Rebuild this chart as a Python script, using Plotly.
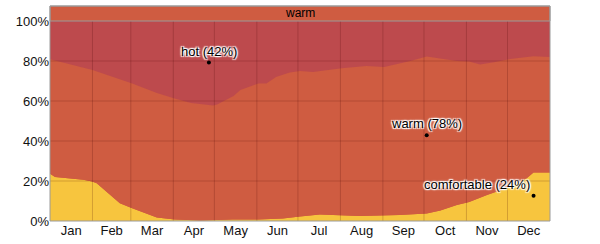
import plotly.graph_objects as go

# ---- data ----
months = ["Jan", "Feb", "Mar", "Apr", "May", "Jun", "Jul", "Aug", "Sep", "Oct", "Nov", "Dec"]
month_starts = [0, 31, 59, 90, 120, 151, 181, 212, 243, 273, 304, 334, 365]
pct_ticks = [0, 20, 40, 60, 80, 100]
pct_labels = ["0%", "20%", "40%", "60%", "80%", "100%"]

# upper edge of "warm" (= lower edge of "hot"), cumulative %
hot_days = [0, 14.6, 31, 60, 78, 91, 103, 119, 122, 134, 139, 152, 158, 165, 175, 182.5,
            192, 213, 231, 244, 263, 275, 285, 297, 306, 314, 324, 335, 353, 365]
hot_lower = [80.9, 78.3, 75.5, 68.8, 64.0, 61.3, 59.0, 57.8, 58.3, 62.5, 65.5, 68.7, 68.7,
             72.0, 74.2, 75.0, 74.5, 76.4, 77.5, 77.0, 80.0, 82.3, 81.4, 80.0, 79.7, 78.2,
             79.4, 80.9, 82.4, 82.0]

# upper edge of "comfortable", %
comf_days = [0, 3.7, 24.3, 30.7, 34.1, 41.4, 51, 60, 68, 78, 91, 110, 122, 133, 152, 170,
             182.5, 197, 226, 255, 275, 285, 297, 306, 319, 333, 348, 353, 365]
comfortable = [23.6, 22.0, 20.6, 19.8, 18.9, 14.7, 8.9, 6.4, 4.4, 1.8, 0.8, 0.2, 0.5, 0.8,
               0.8, 1.3, 2.2, 3.3, 2.5, 3.0, 3.8, 5.2, 8.0, 9.5, 13.0, 16.4, 21.4, 24.3, 24.3]

top_days = [0, 365]
top_vals = [100, 100]

labels = ["hot (42%)", "warm (78%)", "comfortable (24%)"]
label_days = [116, 275, 353]
label_vals = [79.2, 42.9, 12.6]

# ---- styles ----
C_HOT = "#BD4A4D"
C_WARM = "#CF5C41"
C_COMF = "#F7C53E"
C_FRAME = "#9A9A9A"
C_GRID = "rgba(70,0,0,0.2)"
FONT = "Liberation Sans, Arial, sans-serif"

fig = go.Figure()
fig.add_trace(go.Scatter(x=comf_days, y=comfortable, mode="lines", line=dict(width=0),
                         fill="tozeroy", fillcolor=C_COMF, hoverinfo="skip"))
fig.add_trace(go.Scatter(x=hot_days, y=hot_lower, mode="lines", line=dict(width=0),
                         fill="tonexty", fillcolor=C_WARM, hoverinfo="skip"))
fig.add_trace(go.Scatter(x=top_days, y=top_vals, mode="lines", line=dict(width=0),
                         fill="tonexty", fillcolor=C_HOT, hoverinfo="skip"))
fig.add_trace(go.Scatter(x=label_days, y=label_vals, mode="markers",
                         marker=dict(color="black", size=4), hoverinfo="skip"))

shadow = ("1px 1px 1px #fff, -1px -1px 1px #fff, 1px -1px 1px #fff, -1px 1px 1px #fff, "
          "0 0 3px #fff")
for i, (t, d, v) in enumerate(zip(labels, label_days, label_vals)):
    last = i == len(labels) - 1
    fig.add_annotation(x=d, y=v, xref="x", yref="y", text=t, showarrow=False,
                       xanchor="right" if last else "center", yanchor="bottom",
                       yshift=2, xshift=-2 if last else 0,
                       font=dict(family=FONT, size=13, color="black", shadow=shadow))

shapes = []
for m in month_starts[1:-1]:
    shapes.append(dict(type="line", xref="x", yref="y", x0=m, x1=m, y0=0, y1=100,
                       line=dict(color=C_GRID, width=1), layer="above"))
for g in pct_ticks[1:-1]:
    shapes.append(dict(type="line", xref="x", yref="y", x0=0, x1=365, y0=g, y1=g,
                       line=dict(color=C_GRID, width=1), layer="above"))
band_top = 1 + 15 / 200
shapes.append(dict(type="rect", xref="paper", yref="paper", x0=0, x1=1, y0=1, y1=band_top,
                   fillcolor=C_WARM, line=dict(color=C_FRAME, width=1), layer="above"))
shapes.append(dict(type="rect", xref="paper", yref="paper", x0=0, x1=1, y0=0, y1=band_top,
                   fillcolor="rgba(0,0,0,0)", line=dict(color=C_FRAME, width=1), layer="above"))
fig.add_annotation(x=0.5, y=(1 + band_top) / 2, xref="paper", yref="paper", text="warm",
                   showarrow=False, yanchor="middle", font=dict(family=FONT, size=12, color="black"))

mid_months = [(a + b) / 2 for a, b in zip(month_starts[:-1], month_starts[1:])]

fig.update_layout(
    width=600, height=244,
    margin=dict(l=50, r=50, t=21, b=23),
    paper_bgcolor="white", plot_bgcolor=C_WARM,
    showlegend=False, shapes=shapes,
    font=dict(family=FONT, size=13, color="#111"),
    xaxis=dict(range=[0, 365], tickvals=mid_months, ticktext=months, showgrid=False,
               zeroline=False, showline=False, ticks="", fixedrange=True, automargin=False,
               tickfont=dict(size=13)),
    yaxis=dict(range=[0, 100], tickvals=pct_ticks, ticktext=pct_labels,
               showgrid=False, zeroline=False, showline=False, ticks="", fixedrange=True,
               automargin=False, tickfont=dict(size=13)),
)

fig.write_html("out.html")
